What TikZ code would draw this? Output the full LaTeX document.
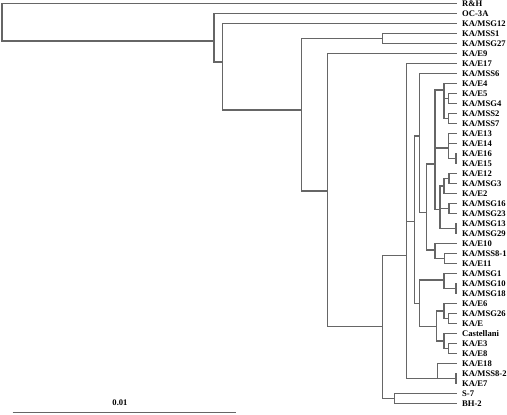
\documentclass[tikz,border=0pt]{standalone}
\usepackage{fontspec}
\setmainfont{Liberation Serif}
\usetikzlibrary{positioning}
\definecolor{treegray}{HTML}{666666}

\begin{document}
\begin{tikzpicture}[
    x=1pt, y=-1pt,
    branch/.style={draw=treegray, line width=1.25pt},
    taxon/.style={inner sep=0pt, font=\fontsize{8.6}{9}\selectfont\bfseries},
]
\path[use as bounding box] (0,0) rectangle (507,415);

\foreach \lab [count=\i from 0] in {R\&H,OC-3A,KA/MSG12,KA/MSS1,KA/MSG27,KA/E9,KA/E17,KA/MSS6,KA/E4,KA/E5,KA/MSG4,KA/MSS2,KA/MSS7,KA/E13,KA/E14,KA/E16,KA/E15,KA/E12,KA/MSG3,KA/E2,KA/MSG16,KA/MSG23,KA/MSG13,KA/MSG29,KA/E10,KA/MSS8-1,KA/E11,KA/MSG1,KA/MSG10,KA/MSG18,KA/E6,KA/MSG26,KA/E,Castellani,KA/E3,KA/E8,KA/E18,KA/MSS8-2,KA/E7,S-7,BH-2} {
    \coordinate (t\i) at (457,3.5+10*\i);
    \node[taxon, right=5pt of t\i, anchor=west] (l\i) {\lab};
}

\coordinate (root) at (2,22);
\coordinate (n1) at (214,41);
\coordinate (n2) at (222.7,62);
\coordinate (n3) at (301.7,110);
\coordinate (mss) at (382.7,38.5);
\coordinate (n4) at (327.7,191);
\coordinate (n5) at (382.3,326.7);
\coordinate (sbh) at (394.3,398.5);
\coordinate (n6) at (406.7,255.7);
\coordinate (n7) at (414.3,221.7);
\coordinate (n8) at (419.3,136);
\coordinate (n10) at (426.7,212.3);
\coordinate (n11) at (435,164);
\coordinate (ga) at (444,90);
\coordinate (ga1) at (448.7,98.5);
\coordinate (ga3) at (448.7,118.5);
\coordinate (gb) at (448.3,148);
\coordinate (gb1) at (456,158.5);
\coordinate (gc) at (440,209.3);
\coordinate (gc1) at (444,186);
\coordinate (gc1a) at (449,178.5);
\coordinate (gc2) at (449,208.5);
\coordinate (gc3) at (456,228.5);
\coordinate (gd) at (435,250);
\coordinate (gd1) at (444.3,258.5);
\coordinate (n9) at (419.3,303.3);
\coordinate (ge) at (444,280);
\coordinate (ge1) at (456,288.5);
\coordinate (gf) at (436.7,326.7);
\coordinate (gf1) at (444,311);
\coordinate (gf1a) at (448.7,318.5);
\coordinate (gf2) at (444,341);
\coordinate (gf2a) at (448.7,348.5);
\coordinate (e18) at (437.3,378.3);
\coordinate (e18a) at (456,378.5);

\draw[branch] (root) |- (t0);
\draw[branch] (root) |- (n1);
\draw[branch] (n1) |- (t1);
\draw[branch] (n1) |- (n2);
\draw[branch] (n2) |- (t2);
\draw[branch] (n2) |- (n3);
\draw[branch] (n3) |- (mss);
\draw[branch] (mss) |- (t3);
\draw[branch] (mss) |- (t4);
\draw[branch] (n3) |- (n4);
\draw[branch] (n4) |- (t5);
\draw[branch] (n4) |- (n5);
\draw[branch] (n5) |- (n6);
\draw[branch] (n5) |- (sbh);
\draw[branch] (sbh) |- (t39);
\draw[branch] (sbh) |- (t40);
\draw[branch] (n6) |- (t6);
\draw[branch] (n6) |- (n7);
\draw[branch] (n6) |- (e18);
\draw[branch] (e18) |- (t36);
\draw[branch] (e18) |- (e18a);
\draw[branch] (e18a) |- (t37);
\draw[branch] (e18a) |- (t38);
\draw[branch] (n7) |- (n8);
\draw[branch] (n7) |- (n9);
\draw[branch] (n8) |- (t7);
\draw[branch] (n8) |- (n10);
\draw[branch] (n10) |- (n11);
\draw[branch] (n10) |- (gd);
\draw[branch] (n11) |- (ga);
\draw[branch] (n11) |- (gb);
\draw[branch] (n11) |- (gc);
\draw[branch] (ga) |- (t8);
\draw[branch] (ga) |- (ga1);
\draw[branch] (ga1) |- (t9);
\draw[branch] (ga1) |- (t10);
\draw[branch] (ga) |- (ga3);
\draw[branch] (ga3) |- (t11);
\draw[branch] (ga3) |- (t12);
\draw[branch] (gb) |- (t13);
\draw[branch] (gb) |- (t14);
\draw[branch] (gb) |- (gb1);
\draw[branch] (gb1) |- (t15);
\draw[branch] (gb1) |- (t16);
\draw[branch] (gc) |- (gc1);
\draw[branch] (gc1) |- (gc1a);
\draw[branch] (gc1a) |- (t17);
\draw[branch] (gc1a) |- (t18);
\draw[branch] (gc1) |- (t19);
\draw[branch] (gc) |- (gc2);
\draw[branch] (gc2) |- (t20);
\draw[branch] (gc2) |- (t21);
\draw[branch] (gc) |- (gc3);
\draw[branch] (gc3) |- (t22);
\draw[branch] (gc3) |- (t23);
\draw[branch] (gd) |- (t24);
\draw[branch] (gd) |- (gd1);
\draw[branch] (gd1) |- (t25);
\draw[branch] (gd1) |- (t26);
\draw[branch] (n9) |- (ge);
\draw[branch] (n9) |- (gf);
\draw[branch] (ge) |- (t27);
\draw[branch] (ge) |- (ge1);
\draw[branch] (ge1) |- (t28);
\draw[branch] (ge1) |- (t29);
\draw[branch] (gf) |- (gf1);
\draw[branch] (gf) |- (gf2);
\draw[branch] (gf1) |- (t30);
\draw[branch] (gf1) |- (gf1a);
\draw[branch] (gf1a) |- (t31);
\draw[branch] (gf1a) |- (t32);
\draw[branch] (gf2) |- (t33);
\draw[branch] (gf2) |- (gf2a);
\draw[branch] (gf2a) |- (t34);
\draw[branch] (gf2a) |- (t35);

\coordinate (bar1) at (12.7,412.5);
\coordinate (bar2) at (236,412.5);
\node[taxon] (barlabel) at (120,403) {0.01};
\draw[branch, line width=1.6pt] (bar1) -- (bar2);

\end{tikzpicture}
\end{document}
